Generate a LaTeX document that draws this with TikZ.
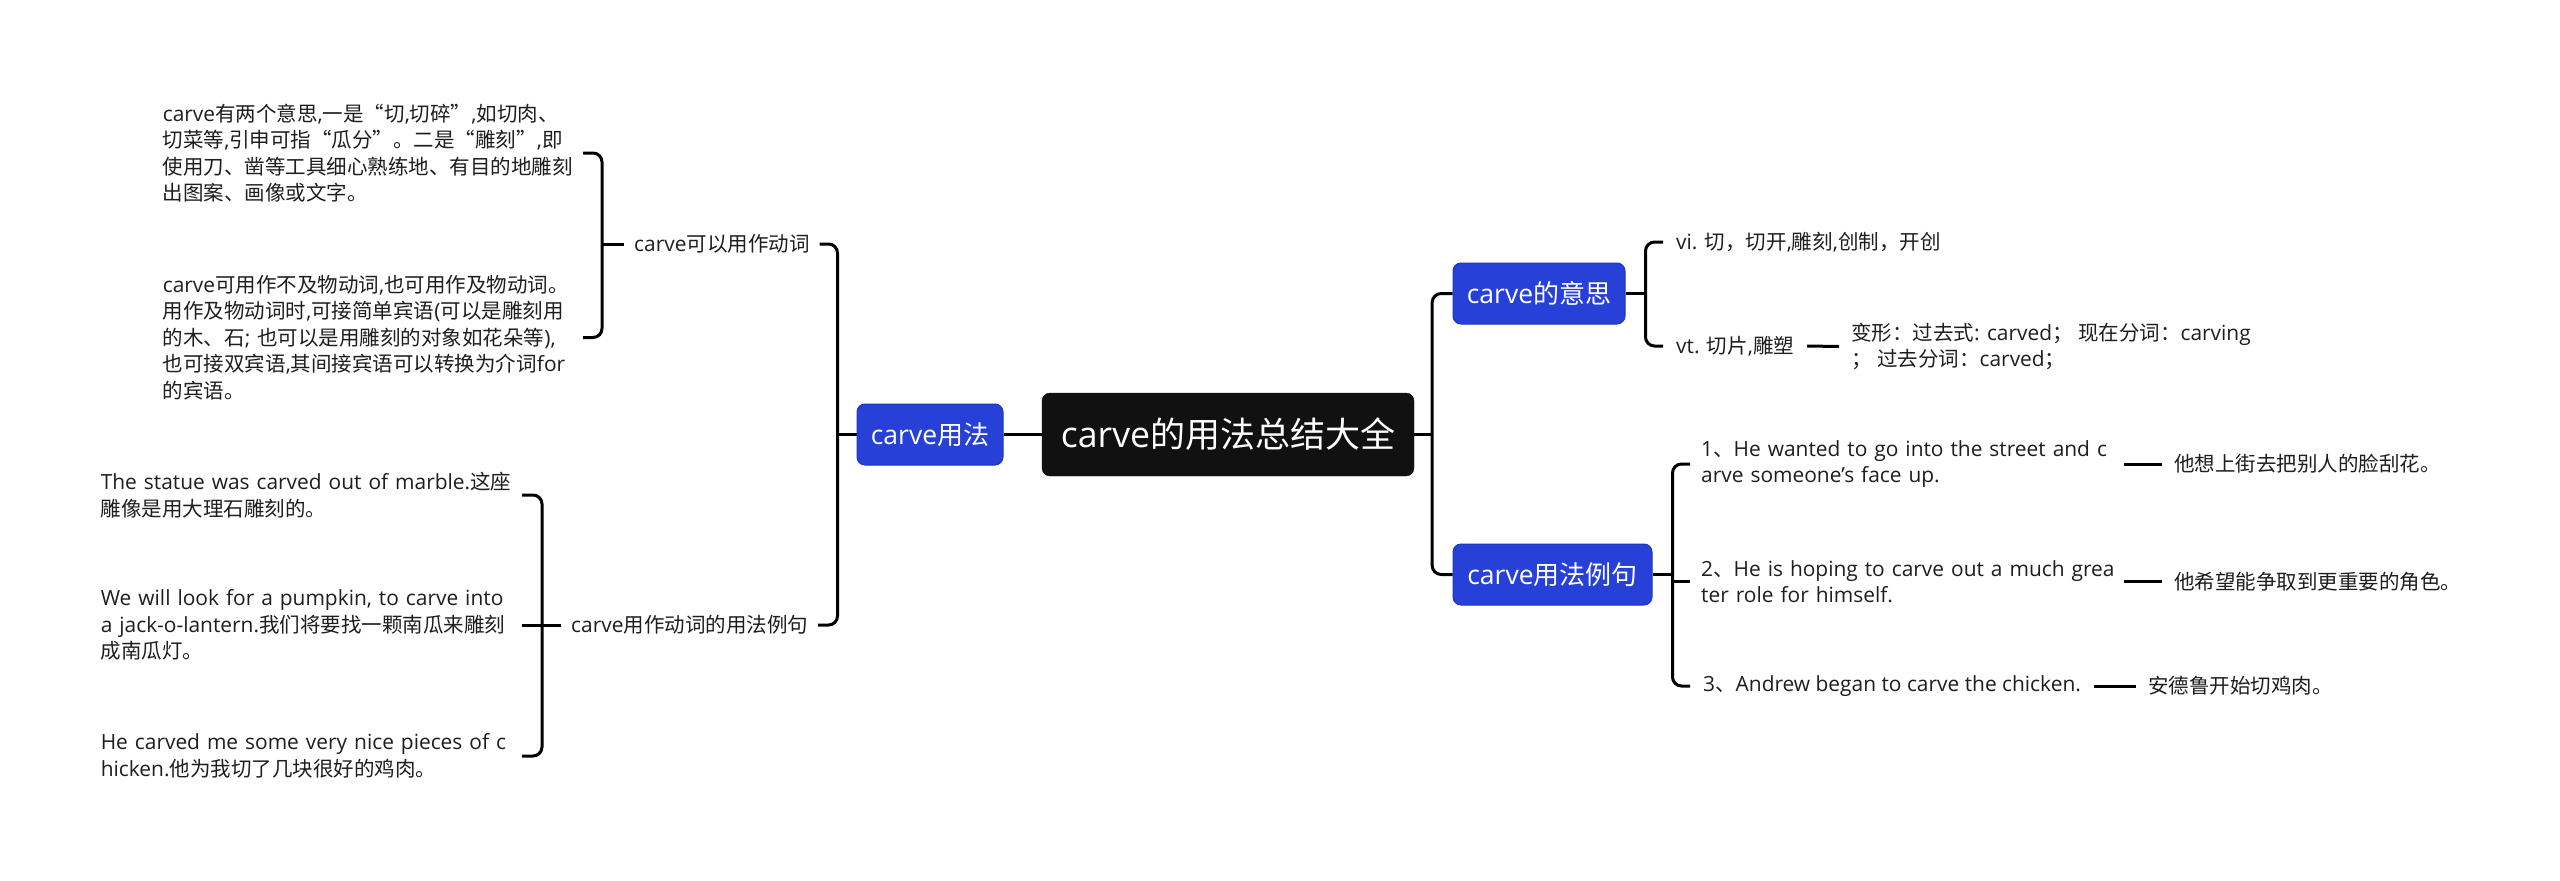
\documentclass[tikz,border=0pt]{standalone}
\usepackage{fontspec}
\setmainfont{Open Sans}[Scale=1.02]
\newfontfamily\cjk{Noto Sans CJK SC}
\XeTeXinterchartokenstate=1
\newXeTeXintercharclass\CJKcls
\makeatletter
\def\setcjkrange#1#2{\count@=#1\relax\loop\XeTeXcharclass\count@=\CJKcls\relax\ifnum\count@<#2\relax\advance\count@ by 1\relax\repeat}
\setcjkrange{"3000}{"303F}
\setcjkrange{"4E00}{"9FFF}
\setcjkrange{"FF00}{"FFEF}
\XeTeXcharclass"201C=\CJKcls
\XeTeXcharclass"201D=\CJKcls
\makeatother
\XeTeXinterchartoks 0 \CJKcls = {\begingroup\cjk}
\XeTeXinterchartoks 4095 \CJKcls = {\begingroup\cjk}
\XeTeXinterchartoks \CJKcls 0 = {\endgroup}
\XeTeXinterchartoks \CJKcls 4095 = {\endgroup}
\definecolor{bluec}{RGB}{38,64,216}
\definecolor{bluedk}{RGB}{30,52,190}
\definecolor{rootc}{RGB}{17,17,17}
\definecolor{txtc}{RGB}{30,30,30}
\begin{document}
\begin{tikzpicture}[x=1pt,y=-1pt,
  conn/.style={line width=3pt, draw=black},
  brk/.style={conn, rounded corners=9pt},
  txt/.style={font=\fontsize{20.5}{26.5}\selectfont, text=txtc, inner ysep=0pt},
  para/.style={txt, align=left, anchor=east, inner xsep=0pt},
  leaf/.style={txt, anchor=west, inner xsep=13pt},
  mid/.style={txt, anchor=west, inner xsep=10pt},
  branch/.style={fill=bluec, draw=bluedk, line width=1pt, rounded corners=8pt, text=white,
    font=\fontsize{26}{30}\selectfont, minimum height=61pt, inner sep=0pt},
  rootbox/.style={fill=rootc, draw=rootc, rounded corners=8pt, text=white,
    font=\fontsize{35}{40}\selectfont, minimum width=372pt, minimum height=83pt, inner sep=0pt}]
\fill[white] (0,0) rectangle (2560,881);
\useasboundingbox (0,0) rectangle (2560,881);

% central and branch nodes
\node[rootbox] (root) at (1228,434.5) {carve的用法总结大全};
\node[branch, minimum width=146pt] (usage) at (930,434.5) {carve用法};
\node[branch, minimum width=172pt] (meaning) at (1539,293.5) {carve的意思};
\node[branch, minimum width=199pt] (ulj) at (1552.5,574.5) {carve用法例句};

% left side
\node[mid] (kyd) at (624,244) {carve可以用作动词};
\node[mid] (yfl) at (561,625) {carve用作动词的用法例句};
\node[para, text width=420pt] (p1) at (583,153) {carve有两个意思,一是“切,切碎”,如切肉、\\切菜等,引申可指“瓜分”。二是“雕刻”,即\\使用刀、凿等工具细心熟练地、有目的地雕刻\\出图案、画像或文字。};
\node[para, text width=420pt] (p2) at (583,337.5) {carve可用作不及物动词,也可用作及物动词。\\用作及物动词时,可接简单宾语(可以是雕刻用\\的木、石; 也可以是用雕刻的对象如花朵等),\\也可接双宾语,其间接宾语可以转换为介词for\\的宾语。};
\node[para, text width=421pt] (e1) at (522,495) {The statue was carved out of marble.这座\\雕像是用大理石雕刻的。};
\node[para, text width=421pt] (e2) at (522,625) {We will look for a pumpkin, to carve into\\a jack-o-lantern.我们将要找一颗南瓜来雕刻\\成南瓜灯。};
\node[para, text width=421pt] (e3) at (522,756) {He carved me some very nice pieces of c\\hicken.他为我切了几块很好的鸡肉。};

% right side
\node[leaf] (vi) at (1663,242) {vi. 切，切开,雕刻,创制，开创};
\node[leaf] (vt) at (1663,346) {vt. 切片,雕塑};
\node[txt, anchor=west, inner xsep=12pt, align=left] (bx) at (1839,346.5) {变形：过去式: carved；\ 现在分词：carving\\；\ 过去分词：carved；};
\node[leaf, inner xsep=11pt, text width=412pt, align=left] (r1) at (1690,464) {\mbox{1、He wanted to go into the street and c}\\arve someone's face up.};
\node[leaf, inner xsep=11pt, text width=412pt, align=left] (r2) at (1690,581.5) {\mbox{2、He is hoping to carve out a much grea}\\ter role for himself.};
\node[leaf] (r3) at (1690,686) {3、Andrew began to carve the chicken.};
\node[txt, anchor=west, inner xsep=12pt] (t1) at (2162,464) {他想上街去把别人的脸刮花。};
\node[txt, anchor=west, inner xsep=12pt] (t2) at (2162,581.5) {他希望能争取到更重要的角色。};
\node[txt, anchor=west, inner xsep=12pt] (t3) at (2136,686) {安德鲁开始切鸡肉。};

% bracket points
\coordinate (lb) at ([xshift=-19pt]usage.west);
\coordinate (kb) at ([xshift=-22pt]kyd.west);
\coordinate (yb) at ([xshift=-19pt]yfl.west);
\coordinate (rb) at ([xshift=18pt]root.east);
\coordinate (mb) at ([xshift=20pt]meaning.east);
\coordinate (ub) at ([xshift=20pt]ulj.east);

% connectors left
\draw[conn] (root.west) -- (usage.east);
\draw[conn] (usage.west) -- (lb);
\draw[brk] (kyd.east) -| (lb) |- (yfl.east);
\draw[conn] (kyd.west) -- (kb);
\draw[brk] (p1.east) -| (kb) |- (p2.east);
\draw[brk] (e1.east) -| (yb) |- (e3.east);
\draw[conn] (e2.east) -- (yfl.west);

% connectors right
\draw[conn] (root.east) -- (rb);
\draw[brk] (meaning.west) -| (rb) |- (ulj.west);
\draw[conn] (meaning.east) -- (mb);
\draw[brk] (vi.west) -| (mb) |- (vt.west);
\draw[conn] (vt.east) -- (bx.west);
\draw[conn] (ulj.east) -- (ub);
\draw[brk] (r1.west) -| (ub) |- (r3.west);
\draw[conn] (ub |- r2.west) -- (r2.west);
\draw[conn] (r1.east) -- (t1.west);
\draw[conn] (r2.east) -- (t2.west);
\draw[conn] (r3.east) -- (t3.west);
\end{tikzpicture}
\end{document}
